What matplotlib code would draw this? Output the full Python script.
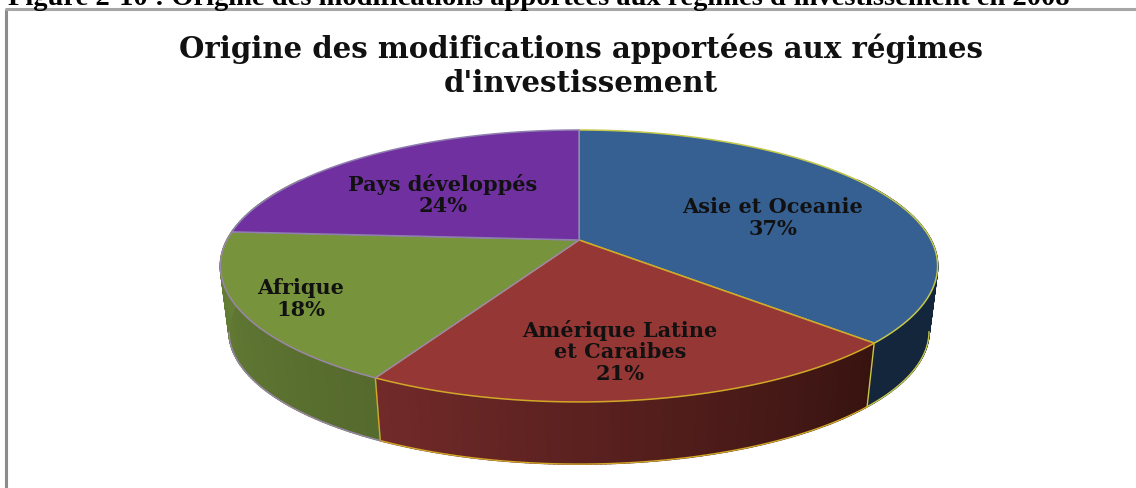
import numpy as np
import matplotlib.pyplot as plt
from matplotlib.collections import PolyCollection
from matplotlib.colors import to_rgb
from matplotlib.patches import Polygon

# Data, clockwise from the top of the pie
labels = ['Asie et Oceanie', 'Amérique Latine\net Caraibes', 'Afrique', 'Pays développés']
shares = [37, 21, 18, 24]

heading = "Figure 2-10 : Origine des modifications apportées aux régimes d'investissement en 2008"
title_lines = ['Origine des modifications apportées aux régimes', "d'investissement"]

# Colours per slice: top, side at its left end, side at its right end, edge
top_colors = ['#366092', '#953735', '#77933c', '#7030a0']
side_left = ['#14263b', '#712a29', '#6e8a3b', '#5a2680']
side_right = ['#14263b', '#371310', '#556a2d', '#5a2680']
edge_colors = ['#c4c84a', '#d2a828', '#9a86a8', '#8f7fb0']
label_pos = [(773, 218), (620, 352), (301, 299), (443, 195)]

# Perspective of the disc, in pixels
cx, cy = 579, 240
A, B, k = 352, 131, 0.191
depth, shrink = 66, 0.976


def rim(deg):
    # deg is clockwise from the top of the pie
    t = np.radians(deg)
    den = 1 + k * np.cos(t)
    return cx + A * np.sin(t) / den, cy - B * np.cos(t) / den


def rim_low(deg):
    x, y = rim(deg)
    return cx + shrink * (x - cx), cy + depth + shrink * (y - cy)


fig = plt.figure(figsize=(11.36, 4.88), dpi=100)
ax = fig.add_axes([0, 0, 1, 1])
ax.set_xlim(0, 1136)
ax.set_ylim(488, 0)
ax.axis('off')

# Chart frame
ax.plot([6, 6], [488, 9], color='#8c8c8c', lw=2.2, solid_capstyle='butt')
ax.plot([5, 1136], [9, 9], color='#a6a6a6', lw=2.2, solid_capstyle='butt')

ax.text(8, 5, heading, family='Liberation Serif', weight='bold', fontsize=20.5,
        ha='left', va='baseline', color='black', clip_on=True)
ax.text(581, 49, title_lines[0], family='DejaVu Serif', weight='bold', fontsize=21,
        ha='center', va='center', color='#111111')
ax.text(581, 84, title_lines[1], family='DejaVu Serif', weight='bold', fontsize=21,
        ha='center', va='center', color='#111111')

bounds = np.concatenate([[0], np.cumsum(shares)]) / np.sum(shares) * 360

# Widest points of the disc: the bottom rim is only seen between these angles
widest = np.degrees(np.arccos(-k))

# Side wall, built from thin strips so that the shading runs along each slice.
# The range goes past 90/270 because the perspective moves the widest point forward,
# the top of the disc hides what is behind it.
for i in range(len(shares)):
    # the back slice has no visible wall, the one before it wraps round the left end
    if bounds[i] >= 270:
        continue
    start = max(bounds[i], 60)
    stop = 300 if bounds[i + 1] >= 270 else bounds[i + 1]
    steps = np.linspace(start, stop, 120)
    x0, y0 = rim(steps)
    x1, y1 = rim_low(steps)
    mean_color = (np.array(to_rgb(side_left[i])) + np.array(to_rgb(side_right[i]))) / 2
    ax.add_patch(Polygon(np.column_stack([np.r_[x0, x1[::-1]], np.r_[y0, y1[::-1]]]),
                         closed=True, facecolor=mean_color, edgecolor='none', zorder=1))
    quads = [[(x0[j], y0[j]), (x0[j + 1], y0[j + 1]), (x1[j + 1], y1[j + 1]), (x1[j], y1[j])]
             for j in range(len(steps) - 1)]
    # steps run clockwise, so along the front of the pie from right to left
    mix = np.linspace(0, 1, len(quads))[:, None]
    colors = (1 - mix) * np.array(to_rgb(side_right[i])) + mix * np.array(to_rgb(side_left[i]))
    ax.add_collection(PolyCollection(quads, facecolors=colors, edgecolors=colors,
                                     linewidths=1.2, zorder=1))
    seen = (steps >= widest) & (steps <= 360 - widest)
    ax.plot(x1[seen], y1[seen], color=edge_colors[i], lw=1.0, zorder=1.5)
    ax.plot([x0[-1], x1[-1]], [y0[-1], y1[-1]], color=edge_colors[i], lw=1.0, zorder=1.5)

# Top of the disc
for i in range(len(shares)):
    steps = np.linspace(bounds[i], bounds[i + 1], 200)
    x, y = rim(steps)
    pts = np.column_stack([np.r_[cx, x], np.r_[cy, y]])
    ax.add_patch(Polygon(pts, closed=True, facecolor=top_colors[i],
                         edgecolor=edge_colors[i], lw=1.1, joinstyle='round', zorder=2))

# Slice labels
for name, share, (lx, ly) in zip(labels, shares, label_pos):
    ax.text(lx, ly, f'{name}\n{share}%', family='DejaVu Serif', weight='bold', fontsize=15,
            ha='center', va='center', linespacing=1.12, color='#111111')

fig.savefig('out.png', dpi=100)
